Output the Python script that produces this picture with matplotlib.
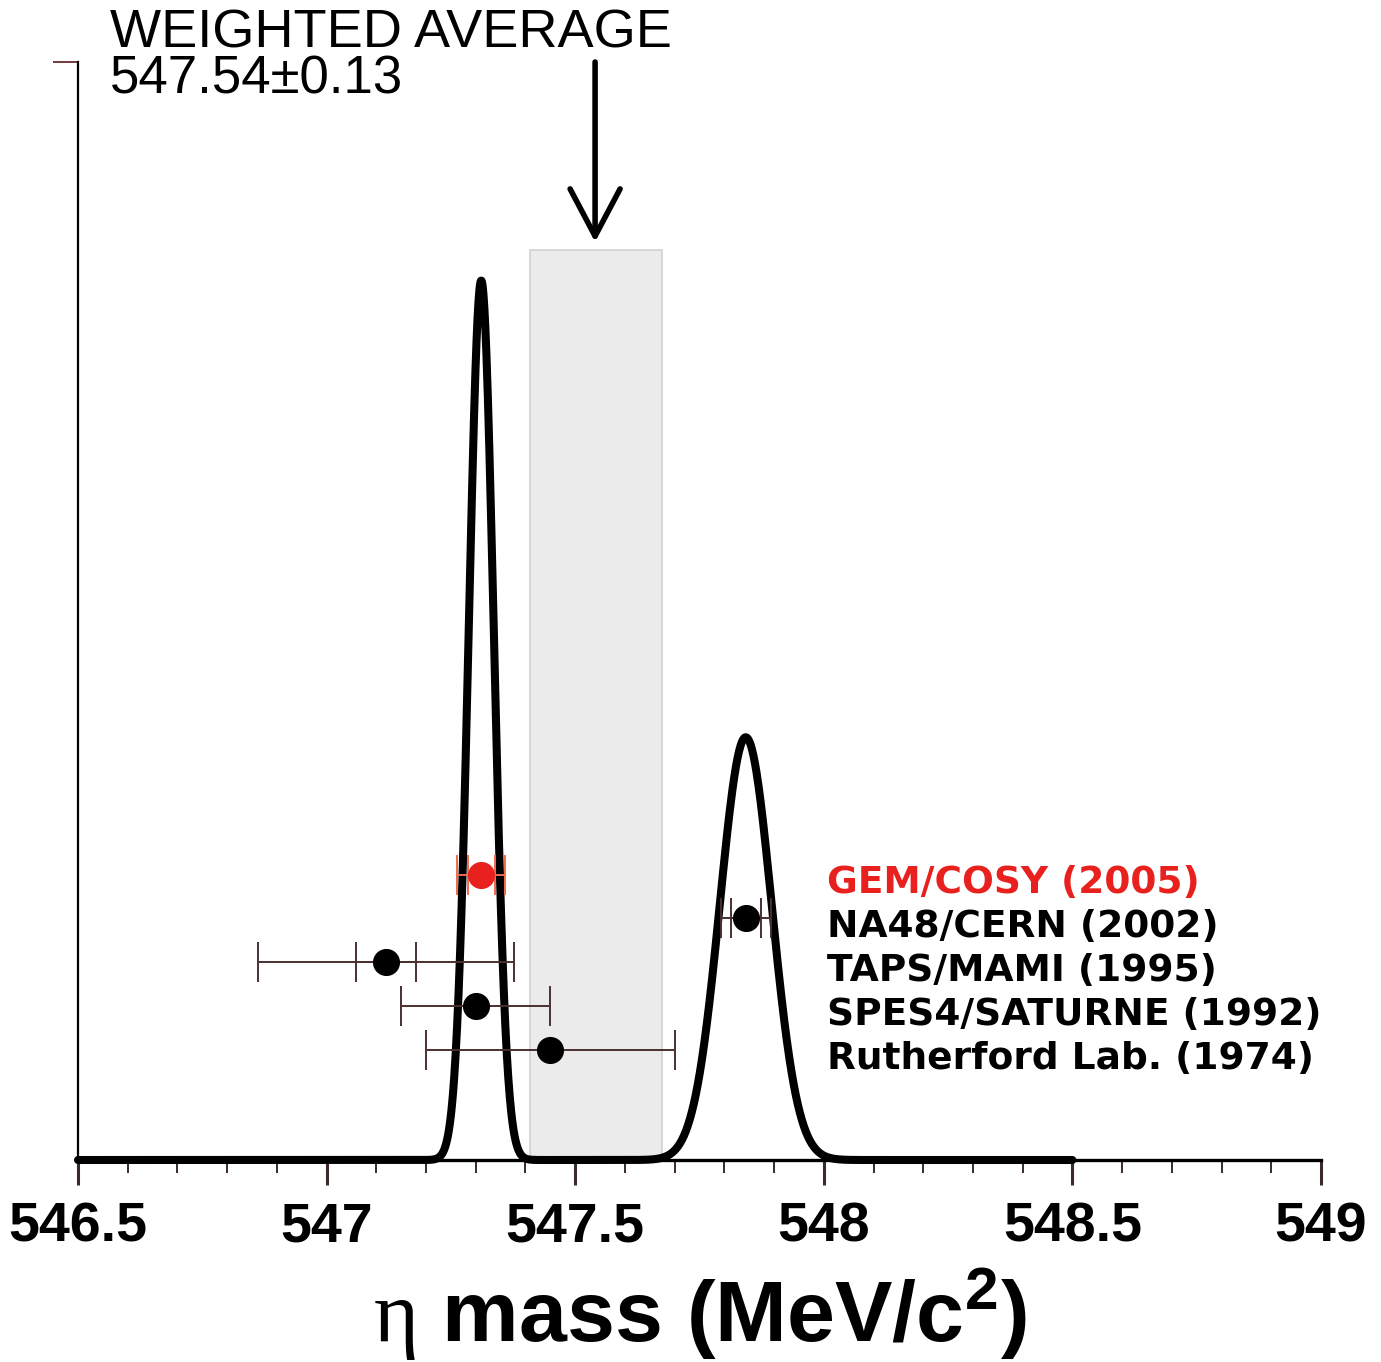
import numpy as np
import matplotlib
matplotlib.use("Agg")
import matplotlib.pyplot as plt
from matplotlib.ticker import MultipleLocator

plt.rcParams['font.family'] = ['Liberation Sans', 'DejaVu Sans']
plt.rcParams['mathtext.fontset'] = 'custom'
plt.rcParams['mathtext.rm'] = 'Liberation Serif'
plt.rcParams['mathtext.bf'] = 'Liberation Sans:bold'

"""Data read from the picture"""
experiments = ["GEM/COSY (2005)", "NA48/CERN (2002)", "TAPS/MAMI (1995)",
               "SPES4/SATURNE (1992)", "Rutherford Lab. (1974)"]
mass = [547.311, 547.843, 547.12, 547.30, 547.45]
err_stat = [0.027, 0.030, 0.060, 0.150, 0.250]
err_total = [0.048, 0.050, 0.257, 0.150, 0.250]
row_y = [26.0, 22.0, 18.0, 14.0, 10.0]

# ideogram peaks (centre, sigma, height)
peak_centre = [547.311, 547.843]
peak_sigma = [0.025, 0.052]
peak_height = [80.1, 38.5]

avg_mass = 547.54
avg_err = 0.13
band_top = 82.9
arrow_tip = 83.6

tick_vals = [546.5, 547.0, 547.5, 548.0, 548.5, 549.0]
tick_text = ["546.5", "547", "547.5", "548", "548.5", "549"]

"""Figure"""
fig = plt.figure(figsize=(13.81, 13.62), dpi=100)
ax = fig.add_axes([78/1381, 202/1362, 1243/1381, 1098/1362])
ax.set_xlim(546.5, 549.0)
ax.set_ylim(0, 100)

# weighted average band
ax.fill_between([avg_mass - avg_err, avg_mass + avg_err + 0.004], 0, band_top,
                facecolor='#ebebeb', edgecolor='#d6d0d0', linewidth=1.2, zorder=1)

# ideogram curve
x = np.linspace(546.5, 548.5, 2000)
y = np.zeros_like(x)
for c, s, h in zip(peak_centre, peak_sigma, peak_height):
    y += h * np.exp(-0.5 * ((x - c) / s) ** 2)
ax.plot(x, y, color='black', lw=5.8, solid_capstyle='round', zorder=3, clip_on=False)

# measurements
colors = ['#e8201e', 'black', 'black', 'black', 'black']
bar_colors = ['#f06a50', '#4a3030', '#4a3030', '#4a3030', '#4a3030']
for m, es, et, yy, c, bc in zip(mass, err_stat, err_total, row_y, colors, bar_colors):
    ax.errorbar(m, yy, xerr=et, fmt='none', ecolor=bc, elinewidth=1.4,
                capsize=14.4, capthick=1.4, zorder=4)
    if et > es:
        ax.errorbar(m, yy, xerr=es, fmt='none', ecolor=bc, elinewidth=1.4,
                    capsize=14.4, capthick=1.4, zorder=4)
    ax.plot(m, yy, 'o', color=c, markersize=18.5, zorder=5)

# legend-like labels
for name, yy, c in zip(experiments, row_y, colors):
    ax.text(548.006, yy - 0.8, name, color=c, fontsize=27,
            fontweight='bold', family='DejaVu Sans', ha='left', va='center')

# arrow and label
ax.annotate("", xy=(avg_mass, arrow_tip), xytext=(avg_mass, 100),
            arrowprops=dict(arrowstyle='->,head_length=0.85,head_width=0.45',
                            mutation_scale=40, lw=4.0, color='black',
                            shrinkA=0, shrinkB=0), annotation_clip=False)
fig.text(110/1381, 1 - 48/1362, "WEIGHTED AVERAGE", fontsize=39,
         ha='left', va='baseline')
fig.text(110/1381, 1 - 94/1362, "547.54\u00b10.13", fontsize=38,
         ha='left', va='baseline')

# axes styling
for side in ['top', 'right']:
    ax.spines[side].set_visible(False)
ax.spines['left'].set_linewidth(1.6)
ax.spines['bottom'].set_linewidth(2.4)
ax.set_xticks(tick_vals)
ax.set_xticklabels(tick_text)
ax.xaxis.set_minor_locator(MultipleLocator(0.1))
ax.tick_params(axis='x', which='major', direction='out', length=18, width=2.2,
               color='#3a2a2a', labelsize=40, pad=12)
ax.tick_params(axis='x', which='minor', direction='out', length=9, width=1.4,
               color='#3a2a2a')
for lbl in ax.get_xticklabels():
    lbl.set_fontweight('bold')
ax.set_yticks([100])
ax.set_yticklabels([])
ax.tick_params(axis='y', which='major', direction='out', length=18, width=1.2,
               color='#5a1a1a')

ax.set_xlabel(r'$\mathrm{\eta}$ mass (MeV/c$^{\mathbf{2}}$)', fontsize=62,
              fontweight='bold', labelpad=8)

fig.savefig("out.png", dpi=100)
